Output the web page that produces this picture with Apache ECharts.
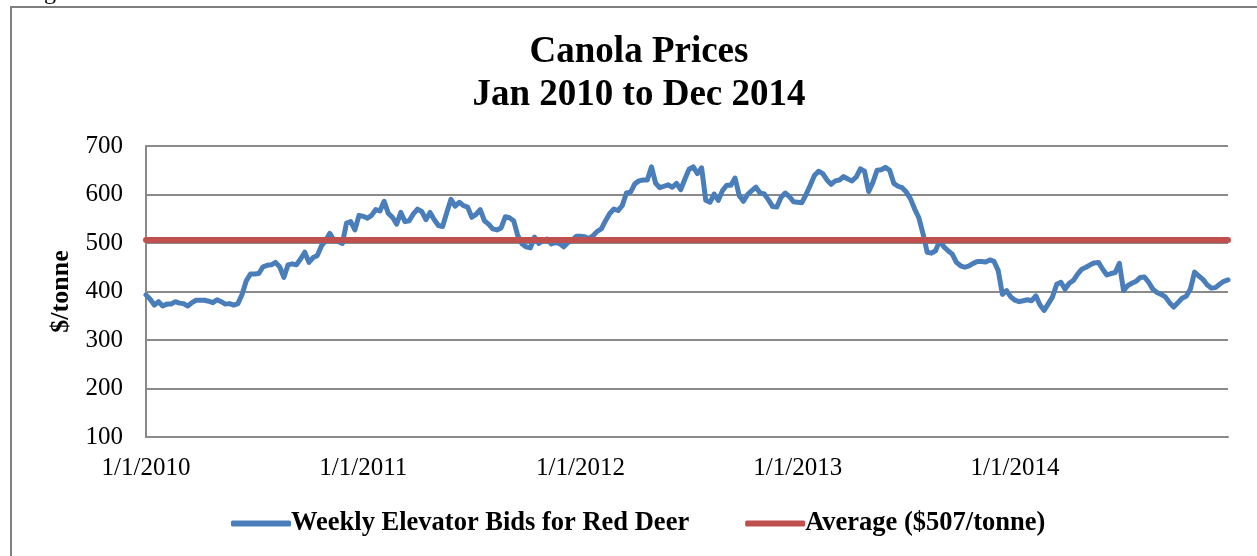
<!DOCTYPE html>
<html>
<head>
<meta charset="utf-8">
<script src="https://cdn.jsdelivr.net/npm/echarts@6/dist/echarts.min.js"></script>
<style>
  html, body { margin: 0; padding: 0; background: #fff; }
  #chart { width: 1257px; height: 556px; }
</style>
</head>
<body>
<div id="chart"></div>
<script>
// weekly elevator bids, $/tonne
const prices2010 = [393, 384, 372, 379, 370, 374, 374, 379, 376, 375,
  370, 377, 382, 382, 382, 380, 377, 383, 379, 374,
  375, 372, 375, 394, 422, 436, 436, 437, 451, 454,
  455, 460, 451, 429, 455, 457, 455, 467, 481, 460,
  470, 474, 494, 505, 520, 505, 503, 499, 541, 544,
  527, 557]
const prices2011 = [555, 551, 557, 569, 566, 586, 561, 553, 539, 563,
  544, 546, 560, 570, 565, 548, 563, 548, 536, 534,
  563, 590, 576, 584, 577, 574, 553, 559, 569, 546,
  539, 529, 527, 531, 554, 552, 546, 515, 498, 492,
  490, 512, 499, 505, 508, 498, 501, 499, 492, 501,
  505, 514]
const prices2012 = [514, 513, 509, 515, 524, 529, 546, 561, 570, 567,
  577, 603, 605, 622, 628, 630, 630, 657, 623, 614,
  617, 620, 615, 623, 610, 632, 652, 657, 643, 655,
  588, 584, 601, 588, 608, 619, 619, 634, 598, 586,
  600, 608, 615, 603, 601, 589, 575, 574, 594, 603,
  596, 585]
const prices2013 = [584, 583, 600, 619, 639, 648, 643, 630, 621, 628,
  630, 637, 632, 628, 636, 653, 648, 606, 625, 650,
  651, 656, 650, 623, 617, 614, 605, 591, 570, 552,
  519, 481, 479, 484, 505, 492, 484, 477, 460, 453,
  450, 453, 458, 462, 462, 461, 465, 462, 443, 394,
  402, 389]
const prices2014 = [382, 379, 381, 383, 381, 391, 372, 361, 375, 389,
  415, 419, 405, 417, 423, 436, 446, 450, 455, 459,
  460, 446, 434, 437, 439, 458, 402, 412, 417, 421,
  429, 430, 419, 405, 398, 394, 389, 377, 368, 377,
  386, 390, 405, 440, 432, 425, 414, 407, 408, 415,
  421, 424]
const averagePrice = 507
const xTickLabels = ['1/1/2010', '1/1/2011', '1/1/2012', '1/1/2013', '1/1/2014']
const weeksPerLabel = 52

const weekly = [].concat(prices2010, prices2011, prices2012, prices2013, prices2014)
const seriesData = weekly.map((v, i) => [i, v])

const serif = '"Liberation Serif", "Times New Roman", serif'
const gridColor = '#8a8a8a'

const chart = echarts.init(document.getElementById('chart'))
chart.setOption({
  backgroundColor: '#fff',
  animation: false,
  title: {
    text: 'Canola Prices\nJan 2010 to Dec 2014',
    left: 634,
    textAlign: 'center',
    top: 26,
    textStyle: {
      fontFamily: serif,
      fontSize: 37,
      fontWeight: 'bold',
      color: '#000',
      lineHeight: 43
    }
  },
  graphic: [
    {
      type: 'rect',
      shape: { x: 11, y: 7, width: 1400, height: 700 },
      style: { fill: 'none', stroke: '#7f7f7f', lineWidth: 2 },
      silent: true
    },
    {
      type: 'text',
      x: 24,
      y: -19,
      style: { text: 'Figure', font: '24px ' + serif, fill: '#000' },
      silent: true
    }
  ],
  legend: {
    left: 226,
    top: 505,
    itemGap: 56,
    itemWidth: 60,
    itemHeight: 6,
    icon: 'roundRect',
    textStyle: {
      fontFamily: serif,
      fontSize: 26.5,
      fontWeight: 'bold',
      color: '#000',
      padding: [0, 0, 0, -5]
    },
    data: ['Weekly Elevator Bids for Red Deer', 'Average ($507/tonne)']
  },
  grid: {
    left: 146,
    right: 29,
    top: 146,
    bottom: 119,
    containLabel: false
  },
  xAxis: {
    type: 'value',
    min: 0,
    max: weekly.length - 1,
    interval: weeksPerLabel,
    axisLine: { show: true, lineStyle: { color: gridColor, width: 2 } },
    axisTick: { show: false },
    splitLine: { show: false },
    axisLabel: {
      margin: 19,
      fontFamily: serif,
      fontSize: 25,
      color: '#000',
      showMaxLabel: false,
      formatter: v => (v % weeksPerLabel === 0 ? xTickLabels[v / weeksPerLabel] : '')
    }
  },
  yAxis: {
    type: 'value',
    min: 100,
    max: 700,
    interval: 100,
    name: '$/tonne',
    nameLocation: 'middle',
    nameGap: 71,
    nameTextStyle: {
      fontFamily: serif,
      fontSize: 26,
      fontWeight: 'bold',
      color: '#000'
    },
    axisLine: { show: true, lineStyle: { color: gridColor, width: 2 } },
    axisTick: { show: false },
    splitLine: { show: true, lineStyle: { color: gridColor, width: 2 } },
    axisLabel: {
      margin: 23,
      fontFamily: serif,
      fontSize: 25,
      color: '#000'
    }
  },
  series: [
    {
      name: 'Weekly Elevator Bids for Red Deer',
      type: 'line',
      data: seriesData,
      showSymbol: false,
      symbol: 'none',
      color: '#4a7ebb',
      lineStyle: { color: '#4a7ebb', width: 5, join: 'round', cap: 'round' },
      z: 3
    },
    {
      name: 'Average ($507/tonne)',
      type: 'line',
      data: [],
      symbol: 'none',
      color: '#c0504d',
      lineStyle: { color: '#c0504d', width: 6 },
      markLine: {
        silent: true,
        symbol: 'none',
        label: { show: false },
        lineStyle: { color: '#c0504d', width: 6, type: 'solid', cap: 'round' },
        data: [{ yAxis: averagePrice }]
      },
      z: 2
    }
  ]
})
</script>
</body>
</html>
